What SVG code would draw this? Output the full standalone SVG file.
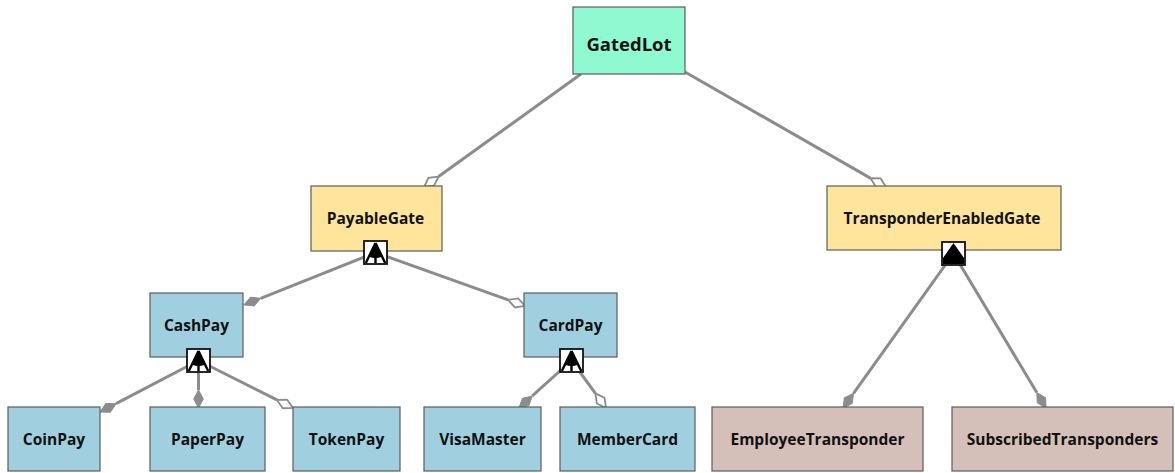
<svg xmlns="http://www.w3.org/2000/svg" xmlns:xlink="http://www.w3.org/1999/xlink" width="1175" height="473" viewBox="0 0 1175 473">
  <style>
    .node rect.box { stroke: #5c5c5c; stroke-width: 1.2; }
    .root { fill: #8ffad1; }
    .abstract { fill: #fee59b; }
    .concrete { fill: #a0d0df; }
    .hw { fill: #d4c0b8; }
    .label { font-family: "Open Sans", "Liberation Sans", sans-serif; font-weight: bold; font-size: 15.5px; fill: #111; text-anchor: middle; }
    .label.big { font-size: 18.5px; }
    .edge { stroke: #8c8c8c; stroke-width: 3; fill: none; }
    .opt { marker-end: url(#open-diamond); }
    .mand { marker-end: url(#solid-diamond); }
  </style>
  <defs>
    <!-- diamond ends; refX sits at the back point so the tip lands on the child box -->
    <marker id="open-diamond" markerUnits="userSpaceOnUse" viewBox="0 0 20 12" markerWidth="20" markerHeight="12" refX="1" refY="6" orient="auto">
      <path d="M1,6 L10,1.2 L19,6 L10,10.8 Z" fill="#ffffff" stroke="#8c8c8c" stroke-width="1.8"/>
    </marker>
    <marker id="solid-diamond" markerUnits="userSpaceOnUse" viewBox="0 0 20 12" markerWidth="20" markerHeight="12" refX="1" refY="6" orient="auto">
      <path d="M1,6 L10,1.2 L19,6 L10,10.8 Z" fill="#8c8c8c" stroke="#8c8c8c" stroke-width="1"/>
    </marker>
    <!-- group decorations shown under a parent box -->
    <g id="or-group">
      <rect x="0" y="0" width="23" height="23" fill="#ffffff" stroke="#111" stroke-width="1.8"/>
      <path d="M11.5,1.5 L4.8,15.4 A15,15 0 0 0 18.2,15.4 Z" fill="#000"/>
      <path d="M11.5,2 L1.8,22 M11.5,2 L11.5,22 M11.5,2 L21.2,22" stroke="#000" stroke-width="2.4" fill="none"/>
    </g>
    <g id="and-group">
      <rect x="0" y="0" width="23" height="23" fill="#ffffff" stroke="#111" stroke-width="1.8"/>
      <path d="M11.5,1 L1,16 L1,22 L22,22 L22,16 Z" fill="#000"/>
    </g>
  </defs>

  <g id="connectors">
    <line class="edge opt" x1="581" y1="74" x2="438.6" y2="176.5"/>
    <line class="edge opt" x1="685" y1="72" x2="870.4" y2="178.1"/>
    <line class="edge mand" x1="375.5" y1="252.5" x2="260.7" y2="298.3"/>
    <line class="edge opt" x1="375.5" y1="252.5" x2="508.1" y2="299.9"/>
    <line class="edge mand" x1="198.5" y1="360.5" x2="116" y2="403.7"/>
    <line class="edge mand" x1="198.5" y1="360.5" x2="198.5" y2="390"/>
    <line class="edge opt" x1="198.5" y1="360.5" x2="276.9" y2="399.9"/>
    <line class="edge mand" x1="571.5" y1="360.5" x2="532.3" y2="395.9"/>
    <line class="edge opt" x1="571.5" y1="360.5" x2="595.4" y2="393.4"/>
    <line class="edge mand" x1="953.5" y1="253.5" x2="853.5" y2="393.4"/>
    <line class="edge mand" x1="953.5" y1="253.5" x2="1036.8" y2="392.6"/>
  </g>

  <g id="GatedLot" class="node">
    <rect class="box root" x="573" y="7" width="112" height="67"/>
    <text class="label big" x="629" y="51">GatedLot</text>
  </g>
  <g id="PayableGate" class="node">
    <rect class="box abstract" x="311" y="186" width="131" height="65"/>
    <text class="label" x="375.5" y="224">PayableGate</text>
    <use xlink:href="#or-group" x="364" y="241"/>
  </g>
  <g id="TransponderEnabledGate" class="node">
    <rect class="box abstract" x="827" y="186" width="234" height="64"/>
    <text class="label" x="942" y="224">TransponderEnabledGate</text>
    <use xlink:href="#and-group" x="942" y="242"/>
  </g>
  <g id="CashPay" class="node">
    <rect class="box concrete" x="150" y="293" width="93" height="64"/>
    <text class="label" x="196.5" y="331">CashPay</text>
    <use xlink:href="#or-group" x="187" y="349"/>
  </g>
  <g id="CardPay" class="node">
    <rect class="box concrete" x="524" y="293" width="93" height="64"/>
    <text class="label" x="570.5" y="331">CardPay</text>
    <use xlink:href="#or-group" x="560" y="349"/>
  </g>
  <g id="CoinPay" class="node">
    <rect class="box concrete" x="8" y="407" width="92" height="64"/>
    <text class="label" x="54" y="445">CoinPay</text>
  </g>
  <g id="PaperPay" class="node">
    <rect class="box concrete" x="150" y="407" width="115" height="64"/>
    <text class="label" x="207.5" y="445">PaperPay</text>
  </g>
  <g id="TokenPay" class="node">
    <rect class="box concrete" x="293" y="407" width="107" height="64"/>
    <text class="label" x="346.5" y="445">TokenPay</text>
  </g>
  <g id="VisaMaster" class="node">
    <rect class="box concrete" x="424" y="407" width="117" height="64"/>
    <text class="label" x="482.5" y="445">VisaMaster</text>
  </g>
  <g id="MemberCard" class="node">
    <rect class="box concrete" x="560" y="407" width="135" height="64"/>
    <text class="label" x="627.5" y="445">MemberCard</text>
  </g>
  <g id="EmployeeTransponder" class="node">
    <rect class="box hw" x="712" y="407" width="211" height="64"/>
    <text class="label" x="817.5" y="445">EmployeeTransponder</text>
  </g>
  <g id="SubscribedTransponders" class="node">
    <rect class="box hw" x="952" y="407" width="221" height="64"/>
    <text class="label" x="1062.5" y="445">SubscribedTransponders</text>
  </g>
</svg>
